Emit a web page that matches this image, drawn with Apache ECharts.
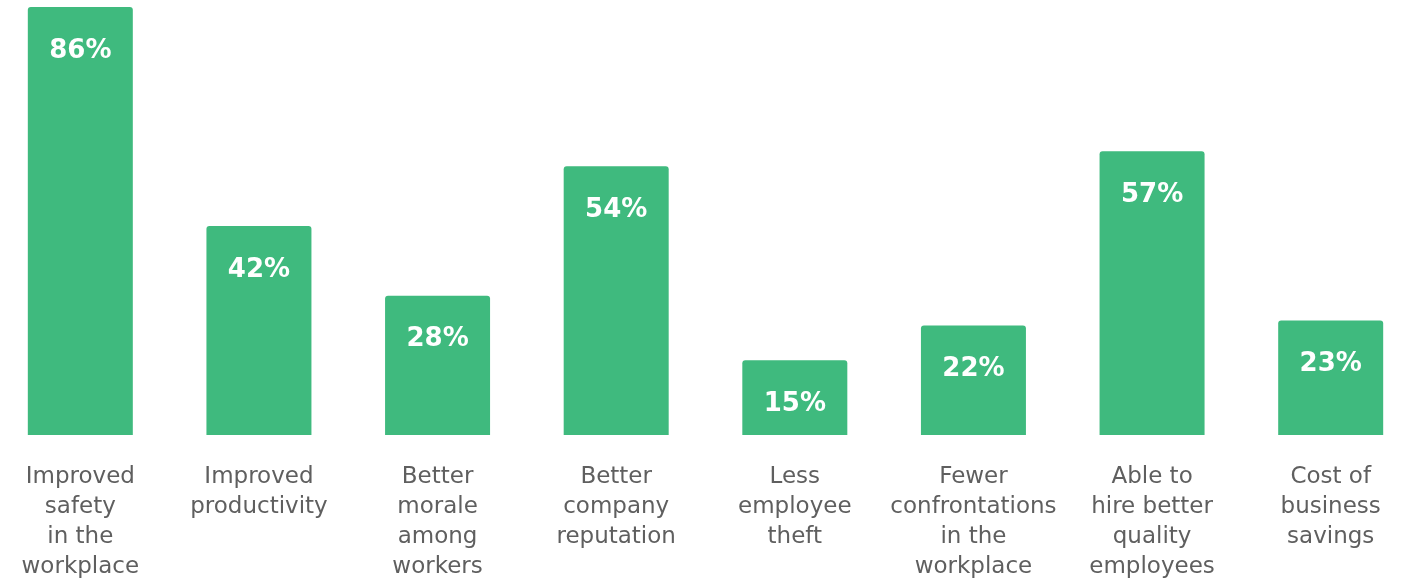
<!DOCTYPE html>
<html><head><meta charset="utf-8">
<script src="https://cdn.jsdelivr.net/npm/echarts@6/dist/echarts.min.js"></script>
<style>html,body{margin:0;padding:0;background:#fff;overflow:hidden;width:1406px;height:582px;position:relative}#c{position:absolute;left:-9px;top:0;width:1429px;height:582px}</style>
</head><body><div id="c"></div>
<script>
const categories = [
  "Improved\nsafety\nin the\nworkplace",
  "Improved\nproductivity",
  "Better\nmorale\namong\nworkers",
  "Better\ncompany\nreputation",
  "Less\nemployee\ntheft",
  "Fewer\nconfrontations\nin the\nworkplace",
  "Able to\nhire better\nquality\nemployees",
  "Cost of\nbusiness\nsavings"
];
const values = [86, 42, 28, 54, 15, 22, 57, 23];

const chart = echarts.init(document.getElementById('c'));
chart.setOption({
  animation: false,
  grid: { left: 0, right: 0, top: 7, bottom: 147, containLabel: false },
  xAxis: {
    type: 'category', data: categories,
    axisLine: { show: false }, axisTick: { show: false },
    axisLabel: {
      interval: 0, margin: 27, color: '#5f5f5f',
      fontFamily: 'DejaVu Sans', fontSize: 23, lineHeight: 30
    }
  },
  yAxis: { type: 'value', min: 0, max: 86, show: false, splitLine: { show: false } },
  series: [{
    type: 'bar', data: values, barWidth: 105,
    itemStyle: { color: '#3fba7e', borderRadius: [3, 3, 0, 0] },
    label: {
      show: true, position: 'insideTop', distance: 31,
      formatter: '{c}%', color: '#fff', fontFamily: 'DejaVu Sans',
      fontWeight: 'bold', fontSize: 26
    }
  }]
});
</script></body></html>
